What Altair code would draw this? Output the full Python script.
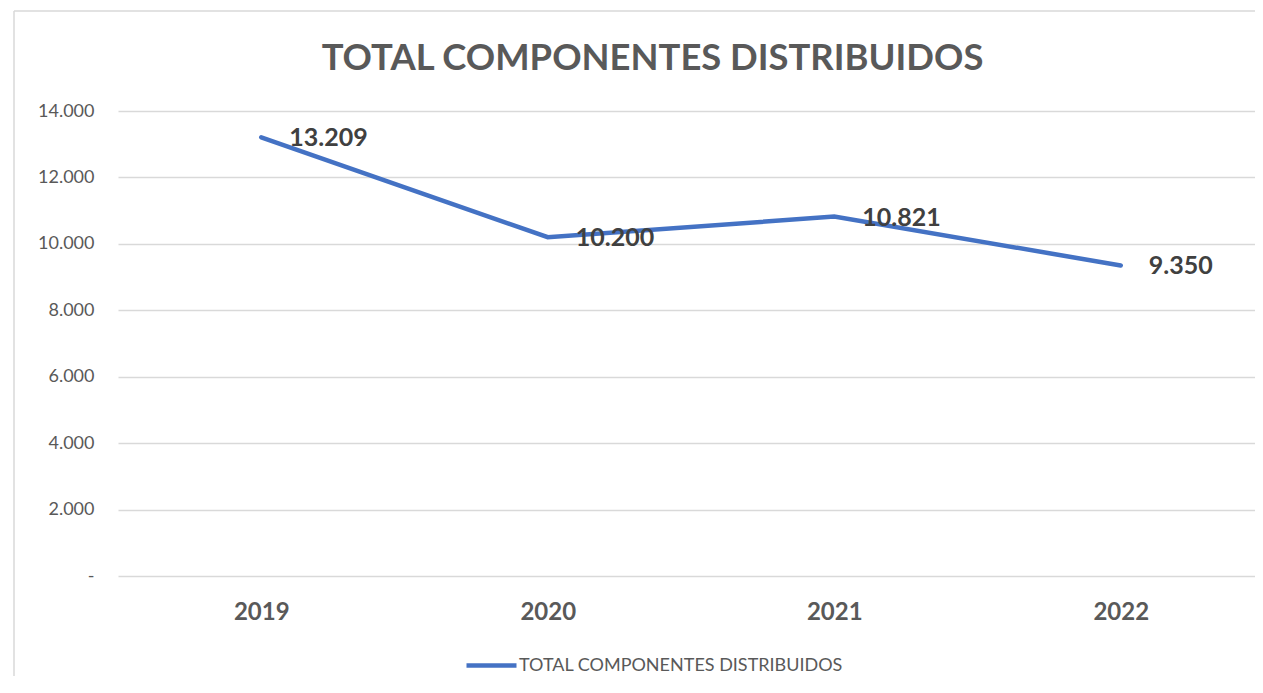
import altair as alt
import pandas as pd

years = ["2019", "2020", "2021", "2022"]
values = [13209, 10200, 10821, 9350]
series_name = "TOTAL COMPONENTES DISTRIBUIDOS"

df = pd.DataFrame({"anio": years, "valor": values, "serie": [series_name] * len(years)})

FONT = "Lato"
BLUE = "#4472C4"
BORDER = "#d9d9d9"

x_enc = alt.X("anio:N", title=None, sort=years,
              scale=alt.Scale(range=[0, 1146]),
              axis=alt.Axis(labelAngle=0, labelFont=FONT, labelFontSize=24, labelFontWeight="bold",
                            labelColor="#595959", labelPadding=24, ticks=False, domain=False, grid=False))
y_enc = alt.Y("valor:Q", title=None,
              scale=alt.Scale(domain=[0, 14000], nice=False),
              axis=alt.Axis(values=[0, 2000, 4000, 6000, 8000, 10000, 12000, 14000],
                            labelExpr="datum.value == 0 ? '-' : replace(format(datum.value, ',.0f'), ',', '.')",
                            labelFont=FONT, labelFontSize=18, labelColor="#595959", labelPadding=24,
                            ticks=False, domain=False, gridColor="#d9d9d9", gridWidth=1.3))

base = alt.Chart(df)
one = base.transform_filter("datum.anio == '2019'")

frame_top = one.mark_rule(color=BORDER, strokeWidth=1.5).encode(
    x=alt.value(-104), x2=alt.value(1250), y=alt.value(-100)
)
frame_left = one.mark_rule(color=BORDER, strokeWidth=1.5).encode(
    x=alt.value(-104), y=alt.value(-100), y2=alt.value(600)
)

line = base.mark_line(strokeWidth=4.5, strokeCap="round").encode(
    x=x_enc, y=y_enc,
    color=alt.Color("serie:N", scale=alt.Scale(range=[BLUE]),
                    legend=alt.Legend(title=None, orient="none", legendX=346, legendY=527,
                                      symbolType="stroke", symbolSize=2500, symbolStrokeWidth=4.5,
                                      labelFont=FONT, labelFontSize=18, labelColor="#595959",
                                      labelOffset=0, padding=0, labelLimit=600))
)

labels = base.mark_text(align="left", baseline="middle", dx=28, dy=1, font=FONT, fontSize=25,
                        fontWeight="bold", color="#404040").encode(
    x=x_enc, y=y_enc, text="etiqueta:N"
).transform_calculate(etiqueta="replace(format(datum.valor, ',.0f'), ',', '.')")

chart = alt.layer(frame_top, frame_left, line, labels).properties(
    width=1137, height=465,
    autosize=alt.AutoSizeParams(type="none"),
    padding={"left": 110, "top": 103, "right": 0, "bottom": 100},
    title=alt.TitleParams(series_name, font=FONT, fontSize=36.4, fontWeight="bold", color="#595959",
                          anchor="middle", dx=-34, offset=0, dy=67),
).configure(background="white").configure_view(stroke=None)

chart.save("out.html", embed_options={"renderer": "svg", "actions": False})
